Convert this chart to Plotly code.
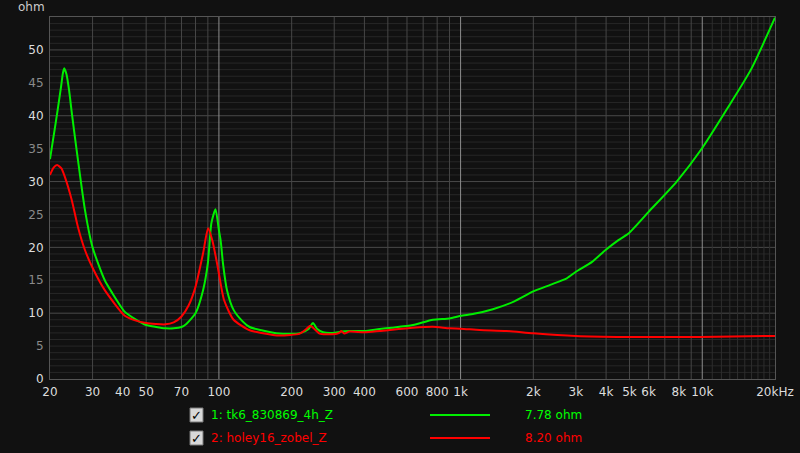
import plotly.graph_objects as go

# ---- data ----
green_name = "1: tk6_830869_4h_Z"
green_value = "7.78 ohm"
green_f = [20, 20.7, 21.5, 22.2, 22.6, 22.9, 23.4, 24.0, 24.7, 26.1, 27.9, 30, 33.7, 36, 40.8, 45, 50, 55, 60, 65, 70,
           73.5, 80, 86, 90, 93.1, 96.8, 100, 101.7, 104, 108, 115, 125, 134, 150, 178, 216, 235,
           245, 255, 270, 296, 321, 347, 400, 462, 520, 635, 768, 900, 1000, 1135, 1360, 1660,
           2000, 2350, 2750, 3000, 3500, 3980, 4500, 4950, 6000, 7840, 10000, 12600, 15900, 20000]
green_z = [33.4, 36.9, 40.8, 44.3, 46.4, 47.2, 46.3, 43.8, 40.0, 33.3, 25.7, 20.0, 15.0, 13.2, 10.2, 9.1, 8.2, 7.9, 7.7,
           7.7, 7.9, 8.4, 10.0, 13.5, 17.6, 23.7, 25.8, 22.6, 21.0, 17.5, 13.5, 10.5, 8.8, 7.9, 7.4,
           6.9, 6.95, 7.6, 8.5, 7.6, 7.1, 7.0, 7.2, 7.3, 7.3, 7.6, 7.8, 8.2, 9.0, 9.2, 9.6, 9.9,
           10.6, 11.75, 13.3, 14.3, 15.3, 16.3, 17.8, 19.6, 21.1, 22.1, 25.4, 30.0, 35.1, 40.9,
           47.0, 54.9]

red_name = "2: holey16_zobel_Z"
red_value = "8.20 ohm"
red_f = [20, 20.7, 21.4, 22.3, 23.1, 24.6, 26.1, 27.9, 30, 33.7, 40.8, 45, 50, 60, 65, 70, 75, 80, 86,
         90.2, 94, 98.8, 105, 115, 134, 150, 178, 216, 230, 239, 250, 261, 296, 315, 321, 330,
         347, 400, 462, 635, 768, 900, 1000, 1200, 1550, 2000, 3000, 4800, 9800, 20000]
red_z = [31.0, 32.1, 32.5, 32.0, 30.6, 27.2, 23.1, 19.6, 16.9, 13.5, 9.6, 8.9, 8.5, 8.3, 8.6, 9.5, 11.2,
         14.0, 19.1, 22.9, 21.0, 17.1, 12.0, 9.0, 7.4, 7.0, 6.6, 6.9, 7.6, 8.1, 7.5, 6.9, 6.8,
         7.0, 7.3, 6.9, 7.2, 7.1, 7.3, 7.8, 7.95, 7.7, 7.65, 7.45, 7.3, 6.95, 6.55, 6.4, 6.4,
         6.55]

x_tickvals = [20, 30, 40, 50, 70, 100, 200, 300, 400, 600, 800, 1000, 2000, 3000, 4000, 5000,
              6000, 8000, 10000, 20000]
x_ticktext = ["20", "30", "40", "50", "70", "100", "200", "300", "400", "600", "800", "1k", "2k",
              "3k", "4k", "5k", "6k", "8k", "10k", "20kHz"]
y_tickvals = [0, 5, 10, 15, 20, 25, 30, 35, 40, 45, 50]

BG = "#111111"
GREEN = "#00ee00"
RED = "#ff0000"
FONT = "DejaVu Sans"

fig = go.Figure()
fig.add_trace(go.Scatter(x=green_f, y=green_z, mode="lines", line=dict(color=GREEN, width=2, shape="spline", smoothing=0.6),
                         hoverinfo="skip", showlegend=False))
fig.add_trace(go.Scatter(x=red_f, y=red_z, mode="lines", line=dict(color=RED, width=2, shape="spline", smoothing=0.6),
                         hoverinfo="skip", showlegend=False))

shapes = []
# horizontal grid
for v in range(1, 55):
    col = "#4a4a4a" if v % 10 == 0 else "#272727"
    shapes.append(dict(type="line", xref="paper", yref="y", x0=0, x1=1, y0=v, y1=v,
                       line=dict(color=col, width=1), layer="below"))
# vertical grid
vlines = []
for d in (10, 100, 1000):
    for m in range(2, 10):
        vlines.append((m * d, "#464646"))
for d in (100, 1000, 10000):
    vlines.append((d, "#8c8c8c"))
for m in range(11, 20):
    vlines.append((m * 1000, "#2e2e2e"))
for v, col in vlines:
    if v <= 20:
        continue
    shapes.append(dict(type="line", xref="x", yref="paper", x0=v, x1=v, y0=0, y1=1,
                       line=dict(color=col, width=1), layer="below"))

# legend decorations
def px_x(p):
    return (p - 50) / 725.0

def px_y(p):
    return (379 - p) / 362.0

rows = [(415, green_name, green_value, "#00ff00", GREEN), (438, red_name, red_value, "#ff0000", RED)]
annotations = []
for yc, name, val, tcol, lcol in rows:
    shapes.append(dict(type="rect", xref="paper", yref="paper", x0=px_x(190), x1=px_x(203),
                       y0=px_y(yc + 7), y1=px_y(yc - 7), fillcolor="#d8d8d8",
                       line=dict(color="#7a7a7a", width=1)))
    annotations.append(dict(x=px_x(196.5), y=px_y(yc), xref="paper", yref="paper", text="✓",
                            showarrow=False, font=dict(family=FONT, size=13, color="#000000"),
                            xanchor="center", yanchor="middle"))
    annotations.append(dict(x=px_x(209), y=px_y(yc), xref="paper", yref="paper", text=name,
                            showarrow=False, font=dict(family=FONT, size=12, color=tcol),
                            xanchor="left", yanchor="middle"))
    shapes.append(dict(type="line", xref="paper", yref="paper", x0=px_x(430), x1=px_x(490),
                       y0=px_y(yc), y1=px_y(yc), line=dict(color=lcol, width=2)))
    annotations.append(dict(x=px_x(523), y=px_y(yc), xref="paper", yref="paper", text=val,
                            showarrow=False, font=dict(family=FONT, size=12, color=tcol),
                            xanchor="left", yanchor="middle"))

annotations.append(dict(x=px_x(31), y=px_y(7), xref="paper", yref="paper", text="ohm",
                        showarrow=False, font=dict(family=FONT, size=12, color="#cccccc"),
                        xanchor="center", yanchor="middle"))

y_ticktext = [f'<span style="color:{"#dddddd" if v % 10 == 0 else "#8a8a8a"}">{v}</span>' for v in y_tickvals]

fig.update_layout(
    width=800, height=453,
    margin=dict(l=50, r=25, t=17, b=74, autoexpand=False),
    paper_bgcolor=BG, plot_bgcolor=BG,
    font=dict(family=FONT, size=12, color="#cccccc"),
    shapes=shapes, annotations=annotations, showlegend=False,
    xaxis=dict(type="log", range=[1.30103, 4.30103], tickvals=x_tickvals, ticktext=x_ticktext,
               showgrid=False, zeroline=False, showline=True, linecolor="#555555", mirror=True,
               ticks="", automargin=False, ticklabelstandoff=2,
               tickfont=dict(family=FONT, size=12, color="#dddddd")),
    yaxis=dict(range=[0, 55], tickvals=y_tickvals, ticktext=y_ticktext, showgrid=False,
               zeroline=False, showline=True, linecolor="#555555", mirror=True, ticks="",
               automargin=False, ticklabelstandoff=3, tickfont=dict(family=FONT, size=12)),
)

fig.write_html("out.html", config={"displayModeBar": False},
               post_script="document.body.style.margin='0';document.body.style.overflow='hidden';document.body.style.background='#111111';")
